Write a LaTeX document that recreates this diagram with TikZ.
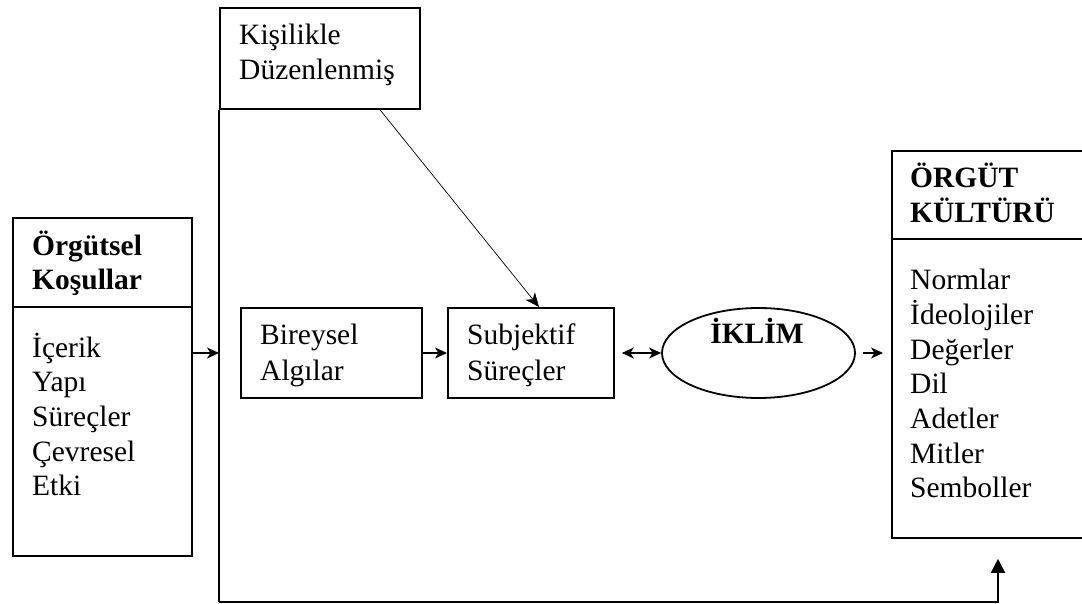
\documentclass[tikz,border=0pt]{standalone}
\usepackage{fontspec}
\setmainfont{Liberation Serif}
\usetikzlibrary{arrows.meta,shapes.geometric,calc}

\begin{document}
\begin{tikzpicture}[x=1pt,y=-1pt,
  box/.style={draw,line width=1.8pt,inner sep=0pt,anchor=north west},
  lbl/.style={inner sep=0pt,anchor=base west,font=\fontsize{29.5}{34.7}\selectfont},
  blbl/.style={lbl,font=\fontsize{29.5}{34.7}\selectfont\bfseries},
  tip/.style={Stealth[length=12pt,width=11pt,inset=3.5pt]},
  arr/.style={line width=1.6pt,-{Stealth[length=12pt,width=11pt,inset=3.5pt]}},
  darr/.style={line width=1.6pt,{Stealth[length=12pt,width=11pt,inset=3.5pt]}-{Stealth[length=12pt,width=11pt,inset=3.5pt]}},
  thinarr/.style={line width=0.7pt,-{Stealth[length=14pt,width=12pt,inset=4pt]}},
  feedback/.style={line width=1.8pt,-{Triangle[length=14pt,width=14pt]}}]
\useasboundingbox (0,0) rectangle (1082,604);
\begin{scope}
\clip (0,0) rectangle (1082,604);

% boxes
\node[box,minimum width=179pt,minimum height=338pt] (ok) at (12,217) {};
\node[box,minimum width=200pt,minimum height=101pt] (kis) at (219,7) {};
\node[box,minimum width=181pt,minimum height=90pt] (bir) at (240,307) {};
\node[box,minimum width=166pt,minimum height=90pt] (sub) at (447,307) {};
\node[draw,line width=1.8pt,ellipse,inner sep=0pt,minimum width=193pt,minimum height=90pt] (ell) at (758.5,353) {};
\node[box,minimum width=215pt,minimum height=387pt] (kul) at (891,150) {};

% header dividers
\draw[line width=1.8pt] ($(ok.north west)+(0,90)$) -- ($(ok.north east)+(0,90)$);
\draw[line width=1.8pt] ($(kul.north west)+(0,89)$) -- ($(kul.north east)+(0,89)$);

% texts
\node[blbl] (okt1) at (32,255) {Örgütsel};
\node[blbl] (okt2) at (32,290) {Koşullar};
\foreach \t [count=\i] in {İçerik,Yapı,Süreçler,Çevresel,Etki}
  \node[lbl] (oki\i) at (32,{357+34.7*(\i-1)}) {\t};

\node[lbl] (kis1) at (239,45) {Kişilikle};
\node[lbl] (kis2) at (239,80) {Düzenlenmiş};

\node[lbl] (bir1) at (260,344) {Bireysel};
\node[lbl] (bir2) at (260,380) {Algılar};

\node[lbl] (sub1) at (467,344) {Subjektif};
\node[lbl] (sub2) at (467,380) {Süreçler};

\node[blbl,anchor=base] (iklim) at (757,343) {İKLİM};

\node[blbl] (kult1) at (910,188) {ÖRGÜT};
\node[blbl] (kult2) at (910,223) {KÜLTÜRÜ};
\foreach \t [count=\i] in {Normlar,İdeolojiler,Değerler,Dil,Adetler,Mitler,Semboller}
  \node[lbl] (kuli\i) at (910,{290+34.6*(\i-1)}) {\t};

% spine line and feedback loop
\coordinate (vtop) at (kis.south west);
\coordinate (vbot) at (219,602);
\coordinate (fb) at ($(kul.south west)+(107,20)$);
\draw[line width=1.8pt] (vtop) -- (vbot);
\draw[feedback] (vbot) -| (fb);

% connectors
\draw[arr] (ok.east |- ell.center) -- (vtop |- ell.center);
\draw[arr] (bir.east |- ell.center) -- (sub.west |- ell.center);
\draw[darr,shorten <=7pt] (sub.east |- ell.center) -- (ell.west);
\draw[arr,shorten <=7pt,shorten >=8pt] (ell.east) -- (kul.west |- ell.center);
\draw[thinarr] ($(kis.south west)+(161,0)$) -- ($(sub.north west)+(92,0)$);
\end{scope}
\end{tikzpicture}
\end{document}
